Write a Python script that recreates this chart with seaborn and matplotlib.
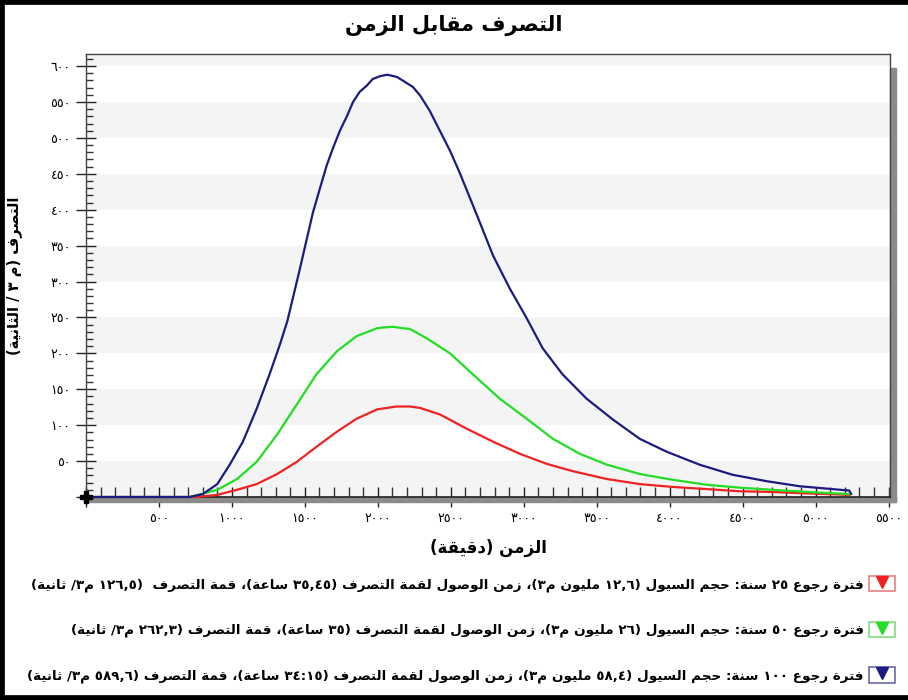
import re
import matplotlib
matplotlib.use("Agg")
import matplotlib.pyplot as plt
import seaborn as sns
from matplotlib.lines import Line2D
from matplotlib.patches import Patch, Rectangle
from matplotlib.ticker import MultipleLocator, FuncFormatter

# hydrographs: time (minutes) / discharge (m3/s)
t_25 = [0, 760, 900, 1035, 1170, 1310, 1445, 1580, 1720, 1855, 1995, 2060, 2130, 2220, 2290,
        2425, 2610, 2790, 2975, 3160, 3335, 3570, 3795, 4020, 4255, 4480, 4705, 4940, 5235]
q_25 = [0, 0, 3, 10, 18, 32, 49, 70, 91, 109, 122, 124, 126, 126, 124,
        115, 95, 77, 60, 46, 36, 25, 18, 14, 11, 8, 7, 5, 3]

t_50 = [0, 710, 900, 1035, 1170, 1310, 1445, 1580, 1720, 1855, 1995, 2035, 2105, 2170, 2220, 2335,
        2495, 2650, 2835, 3020, 3200, 3385, 3570, 3795, 4020, 4255, 4480, 4705, 4940, 5235]
q_50 = [0, 0, 10, 25, 49, 87, 129, 171, 203, 224, 235, 236, 237, 235, 234, 221,
        200, 171, 137, 109, 81, 60, 45, 32, 24, 17, 13, 10, 7, 4]

t_100 = [0, 710, 800, 900, 985, 1075, 1170, 1260, 1330, 1380, 1465, 1555, 1605, 1650, 1695,
         1740, 1790, 1830, 1875, 1925, 1965, 2015, 2065, 2130, 2170, 2240, 2290, 2355, 2425,
         2495, 2560, 2680, 2790, 2905, 3020, 3130, 3265, 3430, 3610, 3795, 3980, 4205, 4430,
         4665, 4890, 5115, 5230, 5245]
q_100 = [0, 0, 4, 18, 45, 77, 123, 172, 213, 245, 317, 396, 431, 462, 487,
         510, 531, 550, 564, 573, 582, 586, 588, 585, 580, 571, 559, 538, 510,
         482, 452, 392, 336, 290, 249, 207, 171, 137, 108, 81, 63, 45, 31,
         22, 15, 11, 9, 4]

TITLE = "التصرف مقابل الزمن"
XLABEL = "الزمن (دقيقة)"
YLABEL = "التصرف (م 3 / الثانية)"
LEGEND_LABELS = [
    "فترة رجوع 25 سنة: حجم السيول (12,6 مليون م3)، زمن الوصول لقمة التصرف (35,45 ساعة)، قمة التصرف  (126,5 م3/ ثانية)",
    "فترة رجوع 50 سنة: حجم السيول (26 مليون م3)، زمن الوصول لقمة التصرف (35 ساعة)، قمة التصرف (262,3 م3/ ثانية)",
    "فترة رجوع 100 سنة: حجم السيول (58,4 مليون م3)، زمن الوصول لقمة التصرف (34:15 ساعة)، قمة التصرف (589,6 م3/ ثانية)",
]
LINE_COLORS = ["#ee2222", "#22dd22", "#1c1c80"]
BOX_COLORS = ["#e88080", "#80dd80", "#6a6aa8"]

# --- minimal arabic shaping, matplotlib does no joining or bidi on its own
AR_DIGITS = str.maketrans("0123456789", "٠١٢٣٤٥٦٧٨٩")
_letters = [chr(c) for c in list(range(0x621, 0x63B)) + list(range(0x641, 0x64B))]
_counts = [1, 2, 2, 2, 2, 4, 2, 4, 2, 4, 4, 4, 4, 4, 2, 2, 2, 2, 4, 4, 4, 4, 4, 4, 4, 4,
           4, 4, 4, 4, 4, 4, 4, 2, 2, 4]
FORMS = {}
_cp = 0xFE80
for _ch, _n in zip(_letters, _counts):
    FORMS[_ch] = tuple(chr(_cp + k) for k in range(_n))
    _cp += _n


def shape(text):
    out = []
    for i, ch in enumerate(text):
        f = FORMS.get(ch)
        if f is None:
            out.append(ch)
            continue
        prev = text[i - 1] if i > 0 else ""
        nxt = text[i + 1] if i + 1 < len(text) else ""
        join_prev = len(f) > 1 and len(FORMS.get(prev, ())) == 4
        join_next = len(f) == 4 and len(FORMS.get(nxt, ())) > 1
        if join_prev and join_next:
            out.append(f[3])
        elif join_prev:
            out.append(f[1])
        elif join_next:
            out.append(f[2])
        else:
            out.append(f[0])
    return "".join(out)


def visual(text):
    s = shape(text.translate(AR_DIGITS))
    runs = re.findall(r"[\u0660-\u0669]+(?:[,:.][\u0660-\u0669]+)*|.", s)
    mirror = {"(": ")", ")": "("}
    return "".join(mirror.get(r, r) for r in reversed(runs))


def ar_tick(v, pos=None):
    if v <= 0:
        return ""
    return f"{v:.0f}".translate(AR_DIGITS)


sns.set_theme(style="white")
plt.rcParams["font.family"] = ["DejaVu Sans"]
plt.rcParams["text.color"] = "black"
plt.rcParams["axes.labelcolor"] = "black"

fig = plt.figure(figsize=(9.08, 7.0), dpi=100)
ax = fig.add_axes([0.0947, 0.29, 0.8855, 0.633])

for t, q, c in zip([t_25, t_50, t_100], [q_25, q_50, q_100], LINE_COLORS):
    sns.lineplot(x=t, y=q, color=c, linewidth=1.6, sort=False, estimator=None, ax=ax,
                 zorder=4, clip_on=False, solid_joinstyle="round")

ax.set_xlim(0, 5510)
ax.set_ylim(0, 617)

# alternating light bands
for k in range(0, 650, 100):
    ax.axhspan(k, k + 50, color="#f4f4f4", zorder=0, lw=0)

ax.xaxis.set_major_locator(MultipleLocator(500))
ax.xaxis.set_minor_locator(MultipleLocator(100))
ax.yaxis.set_major_locator(MultipleLocator(50))
ax.yaxis.set_minor_locator(MultipleLocator(10))
ax.xaxis.set_major_formatter(FuncFormatter(ar_tick))
ax.yaxis.set_major_formatter(FuncFormatter(ar_tick))
ax.tick_params(which="major", direction="inout", length=14, width=1, color="#222222",
               labelsize=9, labelcolor="black", pad=4, bottom=True, left=True)
ax.tick_params(axis="y", which="minor", direction="in", length=5, width=1, color="#333333", left=True)
ax.tick_params(axis="x", which="minor", direction="in", length=7, width=1, color="#333333", bottom=True)

for side in ["top", "left", "right"]:
    ax.spines[side].set_color("#444444")
    ax.spines[side].set_linewidth(1)
ax.spines["bottom"].set_color("#222222")
ax.spines["bottom"].set_linewidth(1.2)

# drop shadow on right and bottom of the plot frame
ax.add_patch(Rectangle((1.0, -0.012), 0.008, 0.98, transform=ax.transAxes, color="#8a8a8a",
                       clip_on=False, zorder=1))
ax.add_patch(Rectangle((0.0, -0.012), 1.008, 0.011, transform=ax.transAxes, color="#8a8a8a",
                       clip_on=False, zorder=1))
ax.plot(ax.get_xlim()[0], ax.get_ylim()[0], marker="P", ms=8, color="black", clip_on=False, zorder=6)

ax.set_xlabel(visual(XLABEL), fontsize=12, fontweight="bold", va="top")
ax.xaxis.set_label_coords(0.5, -0.095)
ax.set_ylabel(visual(YLABEL), fontsize=10.5, fontweight="bold")
ax.yaxis.set_label_coords(-0.08, 0.5)

fig.text(0.5, 0.964, visual(TITLE), ha="center", va="center", fontsize=15, fontweight="bold")

handles = []
for lc, bc in zip(LINE_COLORS, BOX_COLORS):
    box = Patch(facecolor="white", edgecolor=bc, linewidth=1.2)
    tri = Line2D([], [], marker="v", ls="none", ms=9, color=lc)
    handles.append((box, tri))
fig.legend(handles, [visual(s) for s in LEGEND_LABELS], loc="upper right",
           bbox_to_anchor=(0.993, 0.187), markerfirst=False, frameon=False,
           prop={"weight": "bold", "size": 9.7}, labelspacing=2.22, handlelength=1.9,
           handleheight=1.4, handletextpad=0.4, borderpad=0)

# black frame around the picture (left, top, bottom)
for xs, ys in [((0, 0), (0, 1)), ((0, 1), (1, 1)), ((0, 1), (0, 0))]:
    fig.add_artist(Line2D(xs, ys, transform=fig.transFigure, color="black", lw=7))

fig.savefig("out.png", dpi=100)
